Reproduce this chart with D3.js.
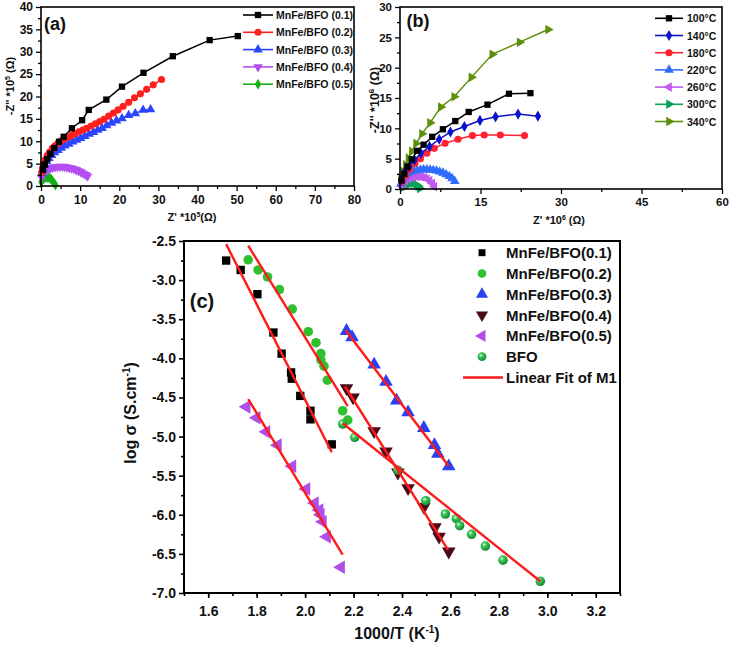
<!DOCTYPE html>
<html><head><meta charset="utf-8">
<script src="https://cdn.jsdelivr.net/npm/d3@7"></script>
<style>
body{margin:0;background:#fff}
svg{display:block}
text{font-family:"Liberation Sans",Arial,sans-serif;font-weight:bold;fill:#111}
</style>
</head><body>
<svg id="fig" width="730" height="645"></svg>
<script>
// ---------- Panel (a) data: Z' (x1e5 Ω), -Z'' (x1e5 Ω) ----------
const aNames = ["MnFe/BFO (0.1)", "MnFe/BFO (0.2)", "MnFe/BFO (0.3)", "MnFe/BFO (0.4)", "MnFe/BFO (0.5)"];
const a01 = [[0.5,3.6],[1.0,4.8],[1.6,6.0],[2.4,7.2],[3.4,8.5],[4.6,9.9],[5.8,11.0],[7.9,12.9],[10.5,14.7],[12.2,17.0],[16.7,19.3],[20.7,22.2],[26.2,25.3],[33.7,29.0],[43.1,32.6],[50.3,33.5]];
const a02 = [[0.2,3.0],[0.4,4.0],[0.7,5.0],[1.1,5.9],[1.6,6.8],[2.2,7.6],[2.9,8.4],[3.6,9.0],[4.4,9.6],[5.2,10.1],[6.0,10.5],[6.9,10.9],[7.8,11.3],[8.7,11.7],[9.7,12.1],[10.7,12.5],[11.7,12.9],[12.8,13.4],[13.9,13.9],[15.0,14.4],[16.1,14.9],[17.3,15.6],[18.5,16.3],[19.7,17.0],[21.0,17.8],[22.4,18.7],[23.9,19.7],[25.4,20.6],[27.0,21.6],[28.7,22.6],[30.8,23.8]];
const a03 = [[0.2,2.8],[0.5,3.8],[0.9,4.7],[1.4,5.5],[2.0,6.2],[2.7,6.9],[3.5,7.5],[4.3,8.0],[5.2,8.5],[6.1,9.0],[7.1,9.4],[8.1,9.9],[9.1,10.3],[10.1,10.7],[11.2,11.1],[12.3,11.6],[13.4,12.0],[14.5,12.5],[15.6,12.9],[16.8,13.5],[18.0,14.1],[19.3,14.6],[20.7,15.1],[22.4,15.8],[24.1,16.2],[26.1,17.0],[28.0,17.1]];
const a04 = [[0.2,1.9],[0.4,2.5],[0.8,3.0],[1.3,3.4],[1.8,3.7],[2.4,3.95],[3.0,4.15],[3.6,4.25],[4.2,4.3],[4.8,4.35],[5.4,4.35],[6.0,4.3],[6.6,4.2],[7.2,4.1],[7.8,3.95],[8.4,3.8],[9.0,3.6],[9.6,3.35],[10.2,3.1],[10.8,2.8],[11.4,2.5],[11.9,2.2]];
const a05 = [[0.1,0.9],[0.3,1.3],[0.6,1.6],[0.9,1.8],[1.3,1.9],[1.7,1.95],[2.1,1.85],[2.5,1.6],[2.9,1.2],[3.3,0.7],[3.7,0.2]];
const aXTicks = [0,10,20,30,40,50,60,70,80];
const aYTicks = [0,5,10,15,20,25,30,35,40];

// ---------- Panel (b) data: Z' (x1e6 Ω), -Z'' (x1e6 Ω) ----------
const bNames = ["100\u00B0C","140\u00B0C","180\u00B0C","220\u00B0C","260\u00B0C","300\u00B0C","340\u00B0C"];
const b100 = [[0.3,1.4],[0.8,2.5],[1.4,3.7],[2.2,4.9],[3.2,6.3],[4.4,7.3],[6.0,8.6],[8.0,9.85],[10.3,11.2],[12.8,12.7],[16.3,13.9],[20.3,15.7],[24.3,15.8]];
const b140 = [[0.2,1.5],[0.8,2.7],[1.7,3.7],[2.7,4.8],[3.9,5.9],[5.5,7.0],[7.3,8.2],[9.4,9.4],[12.0,10.3],[14.9,11.3],[17.8,11.9],[22.0,12.35],[25.7,12.0]];
const b180 = [[0.4,1.2],[1.0,2.2],[1.8,3.2],[2.8,4.2],[3.8,5.0],[5.0,5.9],[6.4,6.7],[8.4,7.55],[10.8,8.2],[13.5,8.8],[15.7,8.9],[18.7,8.9],[23.2,8.8]];
const b220 = [[0.2,0.9],[0.5,1.6],[0.9,2.1],[1.4,2.5],[2.0,2.8],[2.6,3.0],[3.2,3.1],[3.8,3.15],[4.4,3.2],[5.0,3.2],[5.6,3.15],[6.2,3.1],[6.8,3.0],[7.4,2.85],[8.0,2.65],[8.6,2.4],[9.2,2.1],[9.7,1.75],[10.2,1.3]];
const b260 = [[0.3,0.5],[0.6,1.0],[1.0,1.4],[1.5,1.7],[2.0,1.9],[2.5,2.0],[3.0,2.05],[3.5,2.05],[4.0,2.0],[4.5,1.9],[5.0,1.7],[5.5,1.4],[6.0,0.95],[6.4,0.4]];
const b300 = [[0.5,0.2],[1.0,0.5],[1.5,0.75],[2.0,0.9],[2.5,0.9],[3.0,0.75],[3.4,0.45],[3.7,0.1]];
const b340 = [[0.2,1.8],[0.6,2.9],[1.1,4.0],[1.6,5.1],[2.2,6.2],[3.0,7.5],[4.1,9.1],[5.6,10.9],[7.6,13.5],[10.1,15.2],[13.3,18.4],[17.2,22.2],[22.3,24.2],[27.6,26.3]];
const bXTicks = [0,15,30,45,60];
const bYTicks = [0,5,10,15,20,25,30];

// ---------- Panel (c) data: 1000/T (K^-1), log sigma ----------
const cNames = ["MnFe/BFO(0.1)","MnFe/BFO(0.2)","MnFe/BFO(0.3)","MnFe/BFO(0.4)","MnFe/BFO(0.5)","BFO","Linear Fit of M1"];
const c01 = [[1.674,-2.75],[1.734,-2.87],[1.803,-3.18],[1.869,-3.67],[1.903,-3.94],[1.942,-4.18],[1.945,-4.26],[1.98,-4.48],[2.022,-4.67],[2.022,-4.78],[2.11,-5.10]];
const c02 = [[1.765,-2.74],[1.806,-2.87],[1.845,-2.96],[1.894,-3.12],[1.947,-3.37],[2.013,-3.66],[2.045,-3.80],[2.065,-3.94],[2.065,-4.02],[2.078,-4.10],[2.092,-4.28],[2.155,-4.67],[2.176,-4.79]];
const c03 = [[2.171,-3.65],[2.194,-3.73],[2.285,-4.08],[2.334,-4.30],[2.378,-4.54],[2.425,-4.69],[2.49,-4.89],[2.534,-5.11],[2.548,-5.22],[2.593,-5.38]];
const c04 = [[2.171,-4.38],[2.198,-4.50],[2.285,-4.93],[2.334,-5.19],[2.383,-5.46],[2.425,-5.66],[2.49,-5.90],[2.536,-6.16],[2.553,-6.28],[2.593,-6.47]];
const c05 = [[1.758,-4.62],[1.80,-4.76],[1.84,-4.94],[1.887,-5.11],[1.947,-5.38],[2.005,-5.67],[2.04,-5.85],[2.059,-5.94],[2.064,-6.00],[2.073,-6.09],[2.09,-6.28],[2.148,-6.67]];
const cBFO = [[2.155,-4.84],[2.205,-5.01],[2.383,-5.43],[2.498,-5.82],[2.579,-5.99],[2.624,-6.05],[2.638,-6.14],[2.687,-6.25],[2.744,-6.40],[2.817,-6.58],[2.971,-6.85]];
const fit01 = [[1.674,-2.54],[2.11,-5.20]];
const fit02 = [[1.765,-2.56],[2.176,-4.61]];
const fit03 = [[2.167,-3.64],[2.593,-5.38]];
const fit04 = [[2.165,-4.36],[2.59,-6.45]];
const fit05 = [[1.765,-4.52],[2.155,-6.51]];
const fitBFO = [[2.155,-4.83],[2.971,-6.85]];
const cXTicks = [1.6,1.8,2.0,2.2,2.4,2.6,2.8,3.0,3.2];
const cYTicks = [-7.0,-6.5,-6.0,-5.5,-5.0,-4.5,-4.0,-3.5,-3.0,-2.5];

// ---------- drawing ----------
const svg = d3.select("#fig");
const defs = svg.append("defs");
const grad = defs.append("radialGradient").attr("id","sphere").attr("cx","38%").attr("cy","35%").attr("r","65%");
grad.append("stop").attr("offset","0%").attr("stop-color","#d9ffd9");
grad.append("stop").attr("offset","35%").attr("stop-color","#3cc45a");
grad.append("stop").attr("offset","100%").attr("stop-color","#128a34");

const SH = {
  square: d3.symbolSquare, circle: d3.symbolCircle, triangle: d3.symbolTriangle, diamond: d3.symbolDiamond
};
function marker(g, x, y, shape, rot, size, fill) {
  g.append("path")
    .attr("d", d3.symbol().type(SH[shape]).size(size)())
    .attr("transform", `translate(${x},${y}) rotate(${rot})`)
    .attr("fill", fill);
}

function frame(g, x, y, fontSize, xt, yt, xMinor, yMinor, fmt, sw, xpad) {
  const [x0,x1] = x.range(), [y0,y1] = y.range();
  g.append("rect").attr("x",x0).attr("y",y1).attr("width",x1-x0).attr("height",y0-y1)
    .attr("fill","none").attr("stroke","#000").attr("stroke-width",sw);
  g.append("g").attr("transform",`translate(0,${y0})`)
    .call(d3.axisBottom(x).tickValues(xt).tickSize(5).tickPadding(xpad).tickFormat(fmt));
  g.append("g").attr("transform",`translate(0,${y0})`)
    .call(d3.axisBottom(x).tickValues(xMinor).tickSize(3).tickFormat(""));
  g.append("g").attr("transform",`translate(${x0},0)`)
    .call(d3.axisLeft(y).tickValues(yt).tickSize(5).tickPadding(3).tickFormat(fmt));
  g.append("g").attr("transform",`translate(${x0},0)`)
    .call(d3.axisLeft(y).tickValues(yMinor).tickSize(3).tickFormat(""));
  g.selectAll(".domain").remove();
  g.selectAll(".tick line").attr("stroke","#000").attr("stroke-width",sw*0.8);
  g.selectAll(".tick text").attr("font-size",fontSize).attr("font-weight","bold")
    .attr("font-family","'Liberation Sans',Arial,sans-serif").attr("fill","#111");
}

function range(a,b,s){const r=[];for(let v=a;v<=b+1e-9;v+=s)r.push(+v.toFixed(4));return r;}

// ===== Panel (a) =====
{
  const g = svg.append("g");
  const x = d3.scaleLinear().domain([0,80]).range([41,354]);
  const y = d3.scaleLinear().domain([0,40]).range([186,7]);
  const series = [
    {d:a01,c:"#000000",s:"square",r:0},
    {d:a02,c:"#ff1f1f",s:"circle",r:0},
    {d:a03,c:"#2b45ff",s:"triangle",r:0},
    {d:a04,c:"#b44ef0",s:"triangle",r:180},
    {d:a05,c:"#12b012",s:"diamond",r:0}
  ];
  const line = d3.line().x(d=>x(d[0])).y(d=>y(d[1]));
  series.slice().reverse().forEach(se=>{
    g.append("path").attr("d",line(se.d)).attr("fill","none").attr("stroke",se.c).attr("stroke-width",1.5);
    se.d.forEach(p=>marker(g,x(p[0]),y(p[1]),se.s,se.r,se.s==="diamond"?34:40,se.c));
  });
  frame(g,x,y,12,aXTicks,aYTicks,range(5,75,10),range(2.5,37.5,5),d3.format("d"),1.6,4);
  g.append("text").attr("x",55).attr("y",30).attr("text-anchor","middle").attr("font-size",18).text("(a)");
  series.forEach((se,i)=>{
    const yy = 15 + i*17.3;
    g.append("line").attr("x1",243).attr("x2",273).attr("y1",yy).attr("y2",yy).attr("stroke",se.c).attr("stroke-width",1.6);
    marker(g,258,yy,se.s,se.r,se.s==="diamond"?34:40,se.c);
    g.append("text").attr("x",276).attr("y",yy+4).attr("font-size",10.5).text(aNames[i]);
  });
  const yl = g.append("text").attr("transform","translate(14,86) rotate(-90)").attr("text-anchor","middle").attr("font-size",11);
  yl.append("tspan").text("-Z'' *10");
  yl.append("tspan").attr("dy",-4).attr("font-size",7).text("5");
  yl.append("tspan").attr("dy",4).text(" (\u03A9)");
  const xl = g.append("text").attr("x",192).attr("y",221).attr("text-anchor","middle").attr("font-size",11);
  xl.append("tspan").text("Z' *10");
  xl.append("tspan").attr("dy",-4).attr("font-size",7).text("5");
  xl.append("tspan").attr("dy",4).text("(\u03A9)");
}

// ===== Panel (b) =====
{
  const g = svg.append("g");
  const x = d3.scaleLinear().domain([0,60]).range([400,722]);
  const y = d3.scaleLinear().domain([0,30]).range([189,7]);
  const series = [
    {d:b100,c:"#000000",s:"square",r:0},
    {d:b140,c:"#0b12c8",s:"diamond",r:0},
    {d:b180,c:"#ff2233",s:"circle",r:0},
    {d:b220,c:"#2f6cff",s:"triangle",r:0},
    {d:b260,c:"#c05aef",s:"triangle",r:-90},
    {d:b300,c:"#0aa05a",s:"triangle",r:90},
    {d:b340,c:"#5e8f0c",s:"triangle",r:90}
  ];
  const line = d3.line().x(d=>x(d[0])).y(d=>y(d[1]));
  series.slice().reverse().forEach(se=>{
    g.append("path").attr("d",line(se.d)).attr("fill","none").attr("stroke",se.c).attr("stroke-width",1.5);
    se.d.forEach(p=>marker(g,x(p[0]),y(p[1]),se.s,se.r,se.s==="diamond"?36:40,se.c));
  });
  frame(g,x,y,11.5,bXTicks,bYTicks,range(7.5,52.5,15),range(2.5,27.5,5),d3.format("d"),1.6,4);
  g.append("text").attr("x",418).attr("y",27).attr("text-anchor","middle").attr("font-size",18).text("(b)");
  series.forEach((se,i)=>{
    const yy = 18.3 + i*17.2;
    g.append("line").attr("x1",655).attr("x2",683).attr("y1",yy).attr("y2",yy).attr("stroke",se.c).attr("stroke-width",1.6);
    marker(g,669,yy,se.s,se.r,se.s==="diamond"?36:40,se.c);
    g.append("text").attr("x",687).attr("y",yy+4).attr("font-size",10.5).text(bNames[i]);
  });
  const yl = g.append("text").attr("transform","translate(379,100) rotate(-90)").attr("text-anchor","middle").attr("font-size",12.5);
  yl.append("tspan").text("-Z'' *10");
  yl.append("tspan").attr("dy",-5).attr("font-size",8).text("6");
  yl.append("tspan").attr("dy",5).text(" (\u03A9)");
  const xl = g.append("text").attr("x",559).attr("y",224).attr("text-anchor","middle").attr("font-size",11);
  xl.append("tspan").text("Z' *10");
  xl.append("tspan").attr("dy",-4).attr("font-size",7).text("6");
  xl.append("tspan").attr("dy",4).text(" (\u03A9)");
}

// ===== Panel (c) =====
{
  const g = svg.append("g");
  const x = d3.scaleLinear().domain([1.5,3.3]).range([184,620]);
  const y = d3.scaleLinear().domain([-7.0,-2.5]).range([593,241]);
  const series = [
    {d:c01,c:"#000000",s:"square",r:0,f:fit01},
    {d:c02,c:"#2ec02e",s:"circle",r:0,f:fit02},
    {d:c03,c:"#2b40f0",s:"triangle",r:0,f:fit03},
    {d:c04,c:"#4a0a18",s:"triangle",r:180,f:fit04},
    {d:c05,c:"#b04ee8",s:"triangle",r:-90,f:fit05},
    {d:cBFO,c:"url(#sphere)",s:"circle",r:0,f:fitBFO}
  ];
  const sz = s => s==="square"?70:(s==="circle"?72:80);
  series.forEach(se=>{
    se.d.forEach(p=>marker(g,x(p[0]),y(p[1]),se.s,se.r,sz(se.s),se.c));
  });
  const line = d3.line().x(d=>x(d[0])).y(d=>y(d[1]));
  series.forEach(se=>{
    g.append("path").attr("d",line(se.f)).attr("fill","none").attr("stroke","#ff1a1a").attr("stroke-width",2.4);
  });
  frame(g,x,y,14,cXTicks,cYTicks,range(1.5,3.3,0.1),range(-6.75,-2.75,0.5),d=>d.toFixed(1),2,8);
  g.append("text").attr("x",202).attr("y",308).attr("text-anchor","middle").attr("font-size",20).text("(c)");
  series.forEach((se,i)=>{
    const yy = 252.7 + i*20.8;
    marker(g,482,yy,se.s,se.r,se.s==="square"?48:(se.s==="circle"?60:64),se.c);
    g.append("text").attr("x",506).attr("y",yy+5.5).attr("font-size",15).text(cNames[i]);
  });
  const fy = 252.7 + 6*20.8;
  g.append("line").attr("x1",463).attr("x2",503).attr("y1",fy).attr("y2",fy).attr("stroke","#ff1a1a").attr("stroke-width",2.4);
  g.append("text").attr("x",506).attr("y",fy+5.5).attr("font-size",15).text(cNames[6]);
  const yl = g.append("text").attr("transform","translate(136,413) rotate(-90)").attr("text-anchor","middle").attr("font-size",16);
  yl.append("tspan").text("log \u03C3 (S.cm");
  yl.append("tspan").attr("dy",-6).attr("font-size",10).text("-1");
  yl.append("tspan").attr("dy",6).text(")");
  const xl = g.append("text").attr("x",397).attr("y",639).attr("text-anchor","middle").attr("font-size",16);
  xl.append("tspan").text("1000/T (K");
  xl.append("tspan").attr("dy",-6).attr("font-size",10).text("-1");
  xl.append("tspan").attr("dy",6).text(")");
}
</script>
</body></html>
